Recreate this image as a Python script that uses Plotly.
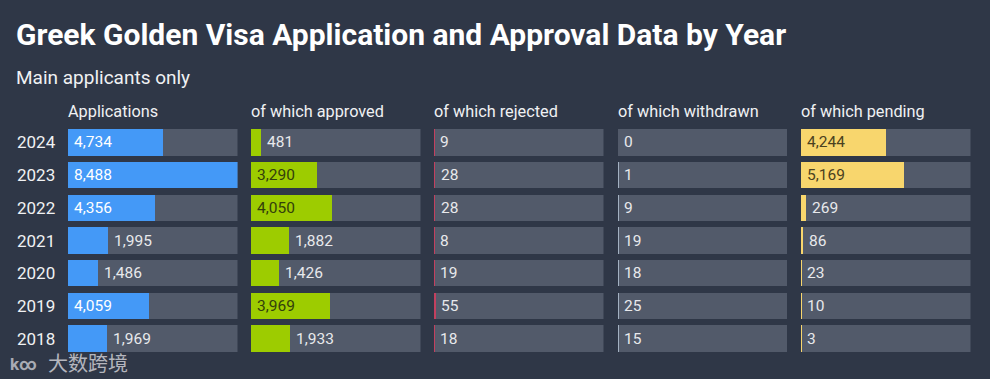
import plotly.graph_objects as go

years = ["2024", "2023", "2022", "2021", "2020", "2019", "2018"]
applications = [4734, 8488, 4356, 1995, 1486, 4059, 1969]
approved = [481, 3290, 4050, 1882, 1426, 3969, 1933]
rejected = [9, 28, 28, 8, 19, 55, 18]
withdrawn = [0, 1, 9, 19, 18, 25, 15]
pending = [4244, 5169, 269, 86, 23, 10, 3]

headers = ["Applications", "of which approved", "of which rejected",
           "of which withdrawn", "of which pending"]
series = [applications, approved, rejected, withdrawn, pending]
colors = ["#4499f7", "#9dcc00", "#c2405f", "#a3b1c2", "#f8d66d"]
inside_text_colors = ["#ffffff", "#33400c", "#ffffff", "#ffffff", "#4a4120"]

W, H = 990, 379
BG = "#2f3747"
TRACK = "#525a6a"
OUT_TEXT = "#e8e9ec"
FONT = "Roboto"

col_left_px = [68, 251, 434, 617.5, 801]
col_width_px = 169.5
scale_max = max(applications)
n = len(years)

fig = go.Figure()

annotations = []
for i, (hdr, vals, col) in enumerate(zip(headers, series, colors)):
    ax = "" if i == 0 else str(i + 1)
    xa, ya = "x" + ax, "y" + ax
    # background track
    fig.add_trace(go.Bar(
        x=[scale_max] * n, y=years, orientation="h",
        marker=dict(color=TRACK, line=dict(width=0)), width=0.81,
        hoverinfo="skip", showlegend=False, xaxis=xa, yaxis=ya))
    # data bar
    fig.add_trace(go.Bar(
        x=vals, y=years, orientation="h",
        marker=dict(color=col, line=dict(width=0)), width=0.81,
        showlegend=False, xaxis=xa, yaxis=ya,
        hovertemplate="%{y}: %{x:,}<extra>" + hdr + "</extra>"))
    # value labels
    for k, v in enumerate(vals):
        txt = f"{v:,}"
        text_px = 8.4 * sum(1 for c in txt if c.isdigit()) + 4 * txt.count(",")
        bar_px = v / scale_max * col_width_px
        inside = bar_px > text_px + 12
        annotations.append(dict(
            x=0 if inside else v, y=k, xref=xa, yref=ya,
            text=txt, showarrow=False, xanchor="left", yanchor="middle",
            xshift=4,
            font=dict(family=FONT, size=15.5,
                      color=inside_text_colors[i] if inside else OUT_TEXT)))
    # header
    annotations.append(dict(
        x=0, y=1, xref=xa + " domain", yref=ya + " domain", text=hdr,
        showarrow=False, xanchor="left", yanchor="bottom", yshift=3, xshift=-2,
        font=dict(family=FONT, size=16.3, color="#f0f1f3")))
    dom = [col_left_px[i] / W, (col_left_px[i] + col_width_px) / W]
    fig.update_layout(**{
        ("xaxis" + ax): dict(domain=dom, range=[0, scale_max], visible=False,
                             fixedrange=True, anchor=ya),
        ("yaxis" + ax): dict(type="category", categoryorder="array",
                             categoryarray=years, range=[n - 0.5, -0.5],
                             autorange=False, visible=False, anchor=xa,
                             fixedrange=True),
    })

# year labels
for k, yr in enumerate(years):
    annotations.append(dict(
        x=15 / W, y=k, xref="paper", yref="y", text=yr, showarrow=False,
        xanchor="left", yanchor="middle",
        font=dict(family=FONT, size=17, color="#f0f1f3")))

# title & subtitle
annotations.append(dict(
    x=14 / W, y=1, xref="paper", yref="paper", yshift=92, yanchor="middle",
    xanchor="left", showarrow=False,
    text="<b>Greek Golden Visa Application and Approval Data by Year</b>",
    font=dict(family=FONT, size=30, color="#ffffff")))
annotations.append(dict(
    x=14 / W, y=1, xref="paper", yref="paper", yshift=49, yanchor="middle",
    xanchor="left", showarrow=False, text="Main applicants only",
    font=dict(family=FONT, size=19, color="#f0f1f3")))
# watermark
annotations.append(dict(
    x=8 / W, y=0, xref="paper", yref="paper", yshift=-9, yanchor="middle",
    xanchor="left", showarrow=False, text="<b>k∞</b>",
    font=dict(family=FONT, size=17, color="rgba(225,225,230,0.7)")))
annotations.append(dict(
    x=46 / W, y=0, xref="paper", yref="paper", yshift=-7, yanchor="middle",
    xanchor="left", showarrow=False, text="大数跨境",
    font=dict(family="Noto Sans CJK SC", size=20, color="rgba(225,225,230,0.75)")))

fig.update_layout(
    width=W, height=H, barmode="overlay", bargap=0,
    paper_bgcolor=BG, plot_bgcolor=BG,
    margin=dict(l=0, r=0, t=126, b=24),
    annotations=annotations,
    font=dict(family=FONT),
)

fig.write_html("out.html", config={"displayModeBar": False},
               post_script="document.body.style.margin='0';")
